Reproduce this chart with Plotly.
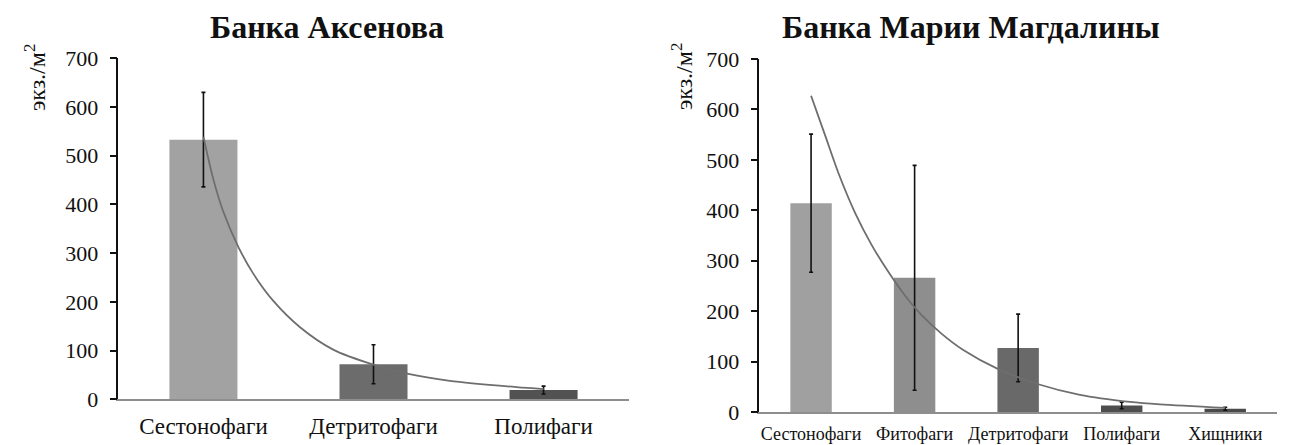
import plotly.graph_objects as go

# ---- Data: Банка Аксенова ----
cats_a = ["Сестонофаги", "Детритофаги", "Полифаги"]
vals_a = [533, 72, 19]
err_a = [97, 40, 8]
colors_a = ["#a2a2a2", "#6c6c6c", "#525252"]
trend_a_x = [0, 0.058, 0.117, 0.205, 0.293, 0.411, 0.568, 0.763, 1.0, 1.205, 1.449, 1.841, 2.0]
trend_a_y = [539, 452, 385, 313, 258, 202, 148, 102, 71, 52, 38, 25, 21]

# ---- Data: Банка Марии Магдалины ----
cats_m = ["Сестонофаги", "Фитофаги", "Детритофаги", "Полифаги", "Хищники"]
vals_m = [414, 266, 127, 13, 6.5]
err_m = [137, 223, 67, 6.5, 3]
colors_m = ["#a0a0a0", "#8e8e8e", "#696969", "#4e4e4e", "#4a4a4a"]
trend_m_x = [0, 0.135, 0.264, 0.425, 0.586, 0.746, 0.907, 1.068, 1.262, 1.470, 1.808, 2.195, 2.597, 3.08, 3.37, 4.0]
trend_m_y = [627, 549, 474, 395, 331, 278, 231, 192, 155, 123, 85, 55, 34, 20, 15, 8]

yticks = [0, 100, 200, 300, 400, 500, 600, 700]

FONT = "Liberation Serif, Times New Roman, serif"
OFF = 8  # page body margin of the browser
W, H = 1297 - OFF, 445 - OFF


def fx(p):
    return (p - OFF) / W


def fy(p):
    return 1 - (p - OFF) / H


fig = go.Figure()

fig.add_trace(go.Bar(
    x=list(range(len(cats_a))), y=vals_a, width=0.4,
    marker=dict(color=colors_a, line=dict(width=0)),
    error_y=dict(type="data", array=err_a, color="#111111", thickness=1.6, width=2),
    xaxis="x", yaxis="y", showlegend=False))
fig.add_trace(go.Scatter(
    x=trend_a_x, y=trend_a_y, mode="lines", line=dict(color="#6e6e6e", width=1.8, shape="spline", smoothing=0.8),
    xaxis="x", yaxis="y", showlegend=False))

fig.add_trace(go.Bar(
    x=list(range(len(cats_m))), y=vals_m, width=0.4,
    marker=dict(color=colors_m, line=dict(width=0)),
    error_y=dict(type="data", array=err_m, color="#111111", thickness=1.6, width=2),
    xaxis="x2", yaxis="y2", showlegend=False))
fig.add_trace(go.Scatter(
    x=trend_m_x, y=trend_m_y, mode="lines", line=dict(color="#6e6e6e", width=1.8, shape="spline", smoothing=0.8),
    xaxis="x2", yaxis="y2", showlegend=False))


def xax(domain, cats, anchor, size, standoff):
    return dict(domain=domain, anchor=anchor, range=[-0.5, len(cats) - 0.5],
                tickvals=list(range(len(cats))), ticktext=cats, ticks="",
                showline=True, linecolor="#8e8e8e", linewidth=1.5, showgrid=False,
                zeroline=False, tickfont=dict(family=FONT, size=size, color="#111111"),
                ticklabelstandoff=standoff, automargin=False, fixedrange=True)


def yax(domain, anchor):
    return dict(domain=domain, anchor=anchor, range=[0, 700], tickvals=yticks,
                ticks="outside", ticklen=7, tickwidth=1.5, tickcolor="#111111",
                showline=True, linecolor="#111111", linewidth=1.5, showgrid=False,
                zeroline=False, tickfont=dict(family=FONT, size=22, color="#111111"),
                ticklabelstandoff=7, automargin=False, fixedrange=True)


fig.update_layout(
    width=W, height=H, margin=dict(l=0, r=0, t=0, b=0, autoexpand=False),
    paper_bgcolor="white", plot_bgcolor="white",
    xaxis=xax([fx(118.4), fx(628.6)], cats_a, "y", 23, 5),
    yaxis=yax([fy(399.3), fy(58.3)], "x"),
    xaxis2=xax([fx(759.3), fx(1277)], cats_m, "y2", 18, 5),
    yaxis2=yax([fy(412), fy(59)], "x2"),
)

annotations = [
    dict(text="<b>Банка Аксенова</b>", x=fx(326.5), y=fy(27), xref="paper", yref="paper",
         showarrow=False, font=dict(family=FONT, size=32, color="#111111"),
         xanchor="center", yanchor="middle"),
    dict(text="<b>Банка Марии Магдалины</b>", x=fx(971), y=fy(27), xref="paper", yref="paper",
         showarrow=False, font=dict(family=FONT, size=32, color="#111111"),
         xanchor="center", yanchor="middle"),
    dict(text="экз./м<sup>2</sup>", x=fx(35), y=fy(78), xref="paper", yref="paper",
         showarrow=False, textangle=-90, font=dict(family=FONT, size=24, color="#111111"),
         xanchor="center", yanchor="middle"),
    dict(text="экз./м<sup>2</sup>", x=fx(682), y=fy(77), xref="paper", yref="paper",
         showarrow=False, textangle=-90, font=dict(family=FONT, size=24, color="#111111"),
         xanchor="center", yanchor="middle"),
]
fig.update_layout(annotations=annotations)

fig.write_html("out.html")
